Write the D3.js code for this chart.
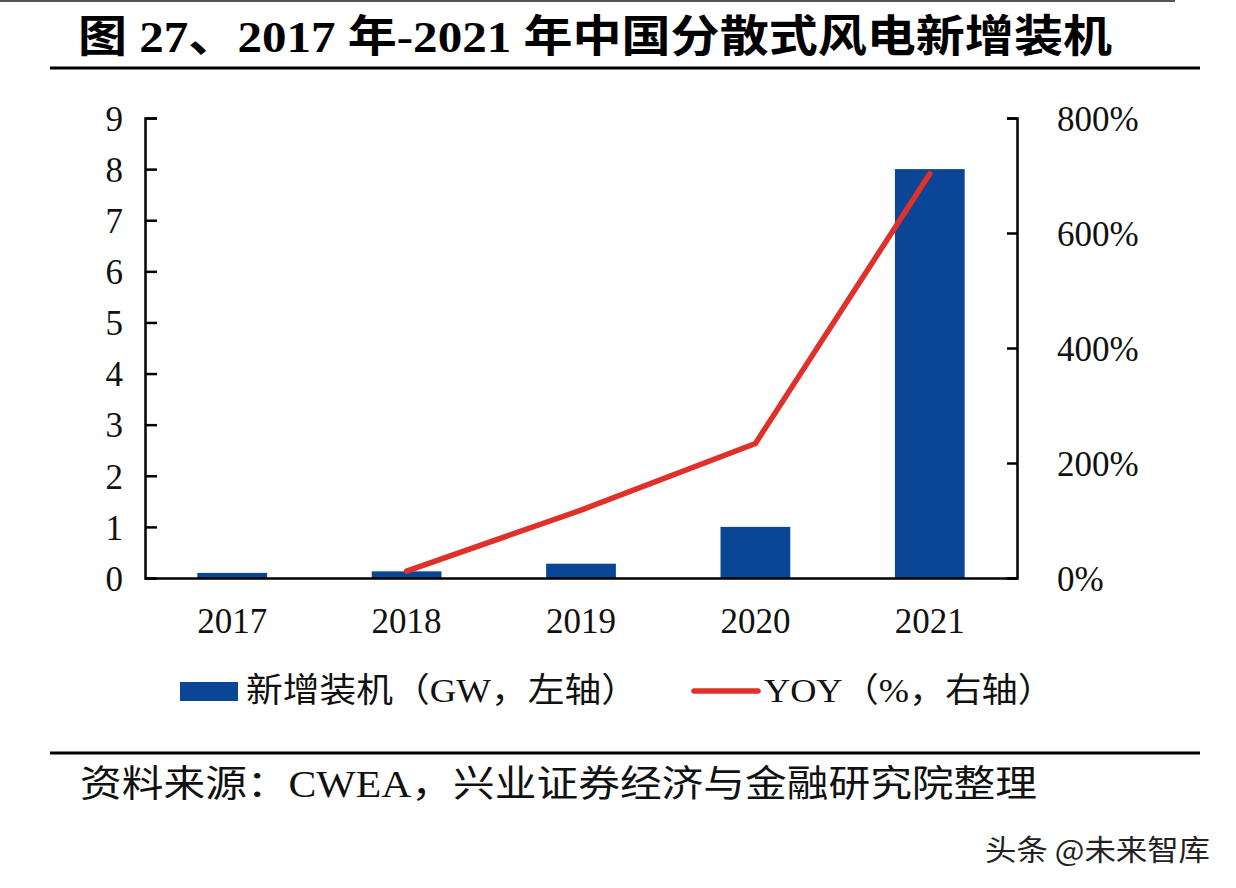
<!DOCTYPE html>
<html><head><meta charset="utf-8">
<script src="https://cdn.jsdelivr.net/npm/d3@7"></script>
<style>body{margin:0;background:#fff}svg{display:block}</style>
</head><body>
<script>
const years = ["2017","2018","2019","2020","2021"];
const capacity = [0.1, 0.13, 0.28, 1.0, 8.0];
const yoyYears = ["2018","2019","2020","2021"];
const yoy = [12, 118, 234, 703];
const leftTicks = [0,1,2,3,4,5,6,7,8,9];
const rightTicks = [0,200,400,600,800];
const titleText = "图 27、2017 年-2021 年中国分散式风电新增装机";
const legendBar = "新增装机（GW，左轴）";
const legendLine = "YOY（%，右轴）";
const sourceText = "资料来源：CWEA，兴业证券经济与金融研究院整理";
const watermark = "头条 @未来智库";

const W = 1236, H = 888;
const serif = '"Liberation Serif","Times New Roman","Noto Sans CJK SC",serif';
const svg = d3.select("body").append("svg").attr("width", W).attr("height", H);

svg.append("rect").attr("width", W).attr("height", H).attr("fill", "#fff");
svg.append("line").attr("x1",0).attr("x2",1175).attr("y1",1).attr("y2",1).attr("stroke","#555").attr("stroke-width",2);

svg.append("text").attr("x", 78).attr("y", 52)
  .attr("font-family", serif).attr("font-weight","bold").attr("font-size",44).attr("fill","#000")
  .attr("textLength",1034).attr("lengthAdjust","spacingAndGlyphs")
  .text(titleText);
svg.append("line").attr("x1",50).attr("x2",1200).attr("y1",68).attr("y2",68).attr("stroke","#000").attr("stroke-width",3);

const x0 = 145, x1 = 1017, yTop = 118, yBot = 578;
const x = d3.scaleBand().domain(years).range([x0, x1]).paddingInner(0.6).paddingOuter(0.3);
const yL = d3.scaleLinear().domain([0, 9]).range([yBot, yTop]);
const yR = d3.scaleLinear().domain([0, 800]).range([yBot, yTop]);

// bars
svg.append("g").selectAll("rect").data(years).join("rect")
  .attr("x", d => x(d)).attr("width", x.bandwidth())
  .attr("y", (d,i) => yL(capacity[i])).attr("height", (d,i) => yBot - yL(capacity[i]))
  .attr("fill", "#0b4595");

// line
const line = d3.line().x(d => x(d[0]) + x.bandwidth()/2).y(d => yR(d[1]));
svg.append("path").datum(yoyYears.map((d,i)=>[d, yoy[i]]))
  .attr("d", line).attr("fill","none").attr("stroke","#e0302a").attr("stroke-width",5.5).attr("stroke-linecap","round");

// left axis
const gL = svg.append("g").attr("transform", `translate(${x0},0)`)
  .call(d3.axisLeft(yL).tickValues(leftTicks).tickSizeInner(-12).tickSizeOuter(-12).tickPadding(22).tickFormat(d3.format("d")));
// right axis
const gR = svg.append("g").attr("transform", `translate(${x1},0)`)
  .call(d3.axisRight(yR).tickValues(rightTicks).tickSizeInner(-10).tickSizeOuter(-10).tickPadding(40).tickFormat(d => d + "%"));
// bottom axis
const gB = svg.append("g").attr("transform", `translate(0,${yBot})`)
  .call(d3.axisBottom(x).tickSize(0).tickPadding(30));
[gL, gR, gB].forEach(g => {
  g.selectAll("path,line").attr("stroke","#000").attr("stroke-width",2.5);
  g.selectAll("text").attr("font-family", serif).attr("font-size",35).attr("fill","#111");
});
gL.selectAll(".tick text").attr("dy","0.35em");
gR.selectAll(".tick text").attr("dy","0.35em");

// legend
svg.append("rect").attr("x",180).attr("y",682).attr("width",58).attr("height",19).attr("fill","#0b4595");
svg.append("text").attr("x",246).attr("y",702).attr("font-family",serif).attr("font-size",34).attr("fill","#111")
  .attr("textLength",392).attr("lengthAdjust","spacingAndGlyphs").text(legendBar);
svg.append("line").attr("x1",694).attr("x2",758).attr("y1",691).attr("y2",691).attr("stroke","#e0302a").attr("stroke-width",5.5).attr("stroke-linecap","round");
svg.append("text").attr("x",764).attr("y",702).attr("font-family",serif).attr("font-size",34).attr("fill","#111")
  .attr("textLength",290).attr("lengthAdjust","spacingAndGlyphs").text(legendLine);

// footer
svg.append("line").attr("x1",50).attr("x2",1200).attr("y1",753).attr("y2",753).attr("stroke","#000").attr("stroke-width",3);
svg.append("text").attr("x",80).attr("y",797).attr("font-family",serif).attr("font-size",37).attr("fill","#111")
  .attr("textLength",957).attr("lengthAdjust","spacingAndGlyphs").text(sourceText);
svg.append("text").attr("x",985).attr("y",861).attr("font-family",'"Noto Sans CJK SC",sans-serif').attr("font-size",29).attr("fill","#222")
  .attr("textLength",225).attr("lengthAdjust","spacingAndGlyphs").text(watermark);
</script>
</body></html>
